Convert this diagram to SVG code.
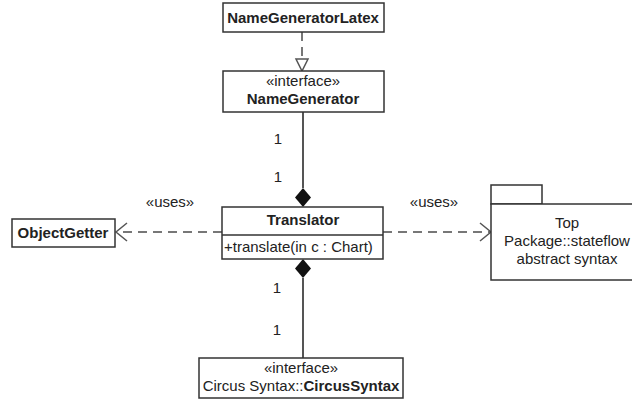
<svg xmlns="http://www.w3.org/2000/svg" width="632" height="405" viewBox="0 0 632 405">
<defs>
<style>
.box{fill:#fff;stroke:#333;stroke-width:1.5}
.t{font-family:"Liberation Sans",Arial,sans-serif;font-size:15px;fill:#222}
.b{font-weight:bold}
.c{text-anchor:middle}
.line{stroke:#555;stroke-width:2;fill:none}
.dash{stroke:#777;stroke-width:2;fill:none;stroke-dasharray:9 6}
</style>
</defs>
<rect width="632" height="405" fill="#fff"/>
<g id="connectors">
<line class="dash" x1="302" y1="32" x2="302" y2="60"/>
<polygon points="296,59 308,59 302,71" fill="#fff" stroke="#555" stroke-width="1.5"/>
<line class="line" x1="303" y1="112" x2="303" y2="188"/>
<polygon points="303,188 311,197.5 303,207 295,197.5" fill="#111"/>
<line class="line" x1="303" y1="278" x2="303" y2="358"/>
<polygon points="303,259 311,268.5 303,278 295,268.5" fill="#111"/>
<line class="dash" x1="222" y1="232" x2="117" y2="232"/>
<polyline points="127,223 116,232 127,241" fill="none" stroke="#555" stroke-width="1.5"/>
<line class="dash" x1="383" y1="232" x2="490" y2="232"/>
<polyline points="480,223 491,232 480,241" fill="none" stroke="#555" stroke-width="1.5"/>
<text class="t c" x="278" y="144">1</text>
<text class="t c" x="278" y="182">1</text>
<text class="t c" x="277" y="293">1</text>
<text class="t c" x="277" y="335">1</text>
<text class="t c" x="170" y="207">«uses»</text>
<text class="t c" x="434" y="207">«uses»</text>
</g>
<g id="NameGeneratorLatex">
<rect class="box" x="223" y="3" width="161" height="29"/>
<text class="t b c" x="303" y="23">NameGeneratorLatex</text>
</g>
<g id="NameGenerator">
<rect class="box" x="223" y="71" width="161" height="41"/>
<text class="t c" x="303" y="86">«interface»</text>
<text class="t b c" x="303" y="104">NameGenerator</text>
</g>
<g id="Translator">
<rect class="box" x="222" y="207" width="161" height="52"/>
<line x1="222" y1="235" x2="383" y2="235" stroke="#333" stroke-width="1.5"/>
<text class="t b c" x="303" y="225">Translator</text>
<text class="t" x="224" y="252">+translate(in c : Chart)</text>
</g>
<g id="ObjectGetter">
<rect class="box" x="12" y="219" width="103" height="28"/>
<text class="t b c" x="63" y="238">ObjectGetter</text>
</g>
<g id="TopPackage">
<rect class="box" x="491" y="185" width="51" height="19"/>
<rect class="box" x="491" y="204" width="150" height="76"/>
<text class="t c" x="567" y="228">Top</text>
<text class="t c" x="567" y="246">Package::stateflow</text>
<text class="t c" x="567" y="264">abstract syntax</text>
</g>
<g id="CircusSyntax">
<rect class="box" x="199" y="358" width="204" height="40"/>
<text class="t c" x="301" y="373">«interface»</text>
<text class="t c" x="301" y="391">Circus Syntax::<tspan class="b">CircusSyntax</tspan></text>
</g>
</svg>
